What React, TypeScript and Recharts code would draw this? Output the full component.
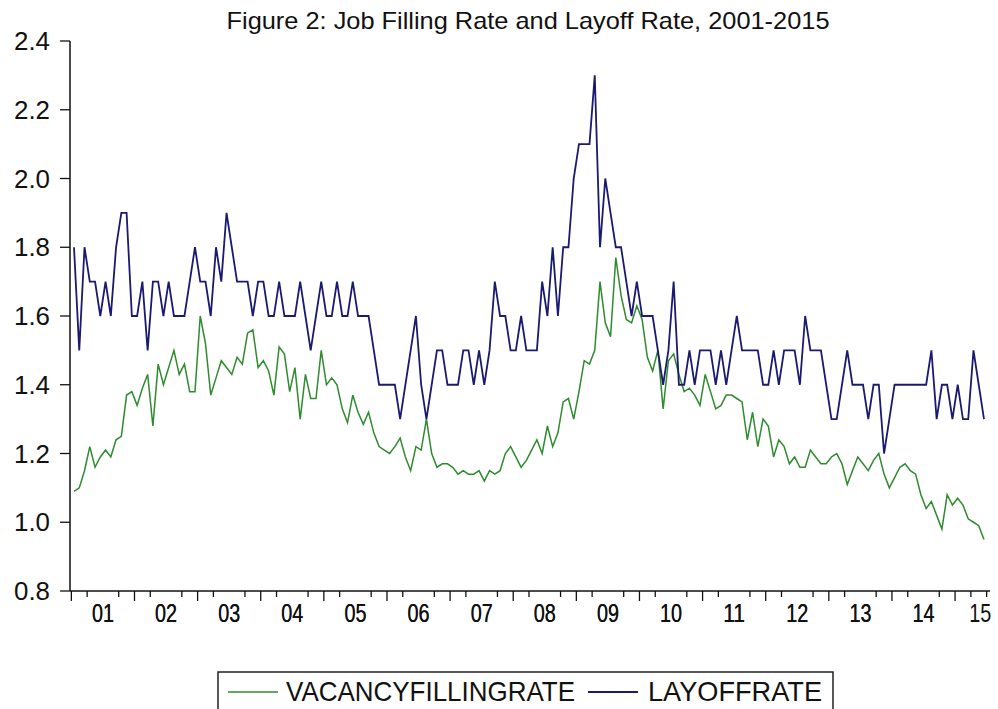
import { LineChart, Line, XAxis, YAxis } from "recharts";

const FONT = "'Liberation Sans Narrow', 'Liberation Sans', Arial, sans-serif";

const TITLE = "Figure 2: Job Filling Rate and Layoff Rate, 2001-2015";
const YEAR_LABELS = ["01", "02", "03", "04", "05", "06", "07", "08", "09", "10", "11", "12", "13", "14", "15"];
const Y_TICKS = [0.8, 1.0, 1.2, 1.4, 1.6, 1.8, 2.0, 2.2, 2.4];

// monthly, 2001M01 .. 2015M06
const VACANCY = [
  1.09, 1.10, 1.15, 1.22, 1.16, 1.19, 1.21, 1.19, 1.24, 1.25, 1.37, 1.38,
  1.34, 1.39, 1.43, 1.28, 1.46, 1.40, 1.45, 1.50, 1.43, 1.46, 1.38, 1.38,
  1.60, 1.52, 1.37, 1.42, 1.47, 1.45, 1.43, 1.48, 1.46, 1.55, 1.56, 1.45,
  1.47, 1.44, 1.37, 1.51, 1.49, 1.38, 1.45, 1.30, 1.43, 1.36, 1.36, 1.50,
  1.40, 1.42, 1.40, 1.33, 1.29, 1.37, 1.32, 1.285, 1.32, 1.26, 1.22, 1.21,
  1.20, 1.22, 1.245, 1.19, 1.15, 1.22, 1.21, 1.30, 1.20, 1.16, 1.17, 1.17,
  1.16, 1.14, 1.15, 1.14, 1.14, 1.15, 1.12, 1.15, 1.14, 1.15, 1.20, 1.22,
  1.19, 1.16, 1.18, 1.21, 1.24, 1.20, 1.28, 1.22, 1.26, 1.35, 1.36, 1.30,
  1.38, 1.47, 1.46, 1.50, 1.70, 1.58, 1.54, 1.77, 1.66, 1.59, 1.58, 1.63,
  1.59, 1.48, 1.44, 1.50, 1.33, 1.47, 1.49, 1.43, 1.38, 1.39, 1.37, 1.34,
  1.43, 1.38, 1.33, 1.34, 1.37, 1.37, 1.36, 1.35, 1.24, 1.32, 1.22, 1.30,
  1.28, 1.19, 1.24, 1.22, 1.17, 1.19, 1.16, 1.16, 1.21, 1.19, 1.17, 1.17,
  1.19, 1.20, 1.17, 1.11, 1.15, 1.19, 1.17, 1.15, 1.18, 1.20, 1.14, 1.10,
  1.13, 1.16, 1.17, 1.15, 1.14, 1.08, 1.04, 1.06, 1.02, 0.98, 1.08, 1.05,
  1.07, 1.05, 1.01, 1.00, 0.99, 0.95,
];

const LAYOFF = [
  1.8, 1.5, 1.8, 1.7, 1.7, 1.6, 1.7, 1.6, 1.8, 1.9, 1.9, 1.6,
  1.6, 1.7, 1.5, 1.7, 1.7, 1.6, 1.7, 1.6, 1.6, 1.6, 1.7, 1.8,
  1.7, 1.7, 1.6, 1.8, 1.7, 1.9, 1.8, 1.7, 1.7, 1.7, 1.6, 1.7,
  1.7, 1.6, 1.6, 1.7, 1.6, 1.6, 1.6, 1.7, 1.6, 1.5, 1.6, 1.7,
  1.6, 1.6, 1.7, 1.6, 1.6, 1.7, 1.6, 1.6, 1.6, 1.5, 1.4, 1.4,
  1.4, 1.4, 1.3, 1.4, 1.5, 1.6, 1.4, 1.3, 1.4, 1.5, 1.5, 1.4,
  1.4, 1.4, 1.5, 1.5, 1.4, 1.5, 1.4, 1.5, 1.7, 1.6, 1.6, 1.5,
  1.5, 1.6, 1.5, 1.5, 1.5, 1.7, 1.6, 1.8, 1.6, 1.8, 1.8, 2.0,
  2.1, 2.1, 2.1, 2.3, 1.8, 2.0, 1.9, 1.8, 1.8, 1.7, 1.6, 1.7,
  1.6, 1.6, 1.6, 1.5, 1.4, 1.5, 1.7, 1.4, 1.4, 1.5, 1.4, 1.5,
  1.5, 1.5, 1.4, 1.5, 1.4, 1.5, 1.6, 1.5, 1.5, 1.5, 1.5, 1.4,
  1.4, 1.5, 1.4, 1.5, 1.5, 1.5, 1.4, 1.6, 1.5, 1.5, 1.5, 1.4,
  1.3, 1.3, 1.4, 1.5, 1.4, 1.4, 1.4, 1.3, 1.4, 1.4, 1.2, 1.3,
  1.4, 1.4, 1.4, 1.4, 1.4, 1.4, 1.4, 1.5, 1.3, 1.4, 1.4, 1.3,
  1.4, 1.3, 1.3, 1.5, 1.4, 1.3,
];

const SERIES = [
  { key: "vacancy", name: "VACANCYFILLINGRATE", color: "#2e8b2e", width: 1.5 },
  { key: "layoff", name: "LAYOFFRATE", color: "#1a1a70", width: 1.8 },
];

const data = VACANCY.map((v, i) => ({ t: i, vacancy: v, layoff: LAYOFF[i] }));
const N = data.length;

// quarter boundaries + one label slot per year (last, partial year sits near the right edge)
const quarterTicks = Array.from({ length: Math.floor(N / 3) + 1 }, (_, q) => q * 3 - 0.5);
const labelTicks = YEAR_LABELS.map((_, k) => (k === YEAR_LABELS.length - 1 ? N - 1.7 : k * 12 + 5.5));
const xTicks = [...quarterTicks, ...labelTicks].sort((a, b) => a - b);
const X_DOMAIN: [number, number] = [-0.76, N - 1 + 1.14];

function XTick(props: any) {
  const { x, y, payload } = props;
  const v = payload.value;
  const li = labelTicks.indexOf(v);
  if (li >= 0) {
    return (
      <text x={x} y={y + 31} textAnchor="middle" fontSize={26} fontFamily={FONT} fill="#111"
        textLength={22} lengthAdjust="spacingAndGlyphs">
        {YEAR_LABELS[li]}
      </text>
    );
  }
  const major = (v + 0.5) % 12 === 0;
  return <line x1={x} x2={x} y1={y} y2={y + (major ? 10 : 6)} stroke="#111" strokeWidth={1.3} />;
}

function YTick(props: any) {
  const { x, y, payload } = props;
  return (
    <text x={x} y={y + 9} textAnchor="end" fontSize={26} fontFamily={FONT} fill="#111"
      textLength={36} lengthAdjust="spacingAndGlyphs">
      {payload.value.toFixed(1)}
    </text>
  );
}

export default function App() {
  return (
    <div style={{ position: "absolute", left: 0, top: 0, width: 998, height: 709, background: "#fff", overflow: "hidden" }}>
      <LineChart width={998} height={709} data={data} margin={{ top: 41, right: 8, left: 0, bottom: 78 }}>
        <XAxis
          xAxisId="main"
          dataKey="t"
          type="number"
          domain={X_DOMAIN}
          allowDataOverflow
          ticks={xTicks}
          interval={0}
          tick={<XTick />}
          tickLine={false}
          tickSize={0}
          tickMargin={0}
          height={40}
          axisLine={{ stroke: "#111", strokeWidth: 1.5 }}
        />
        <XAxis
          xAxisId="top"
          orientation="top"
          dataKey="t"
          type="number"
          domain={X_DOMAIN}
          allowDataOverflow
          tick={false}
          tickLine={false}
          height={0}
          axisLine={{ stroke: "#111", strokeWidth: 1.5 }}
        />
        <YAxis
          yAxisId="left"
          domain={[0.8, 2.4]}
          ticks={Y_TICKS}
          interval={0}
          width={70}
          tickSize={10}
          tickMargin={10}
          tick={<YTick />}
          tickLine={{ stroke: "#111", strokeWidth: 1.3 }}
          axisLine={{ stroke: "#111", strokeWidth: 1.5 }}
        />
        <YAxis
          yAxisId="right"
          orientation="right"
          domain={[0.8, 2.4]}
          width={0}
          tick={false}
          tickLine={false}
          axisLine={{ stroke: "#111", strokeWidth: 1.5 }}
        />
        {SERIES.map((s) => (
          <Line
            key={s.key}
            xAxisId="main"
            yAxisId="left"
            type="linear"
            dataKey={s.key}
            name={s.name}
            stroke={s.color}
            strokeWidth={s.width}
            dot={false}
            activeDot={false}
            isAnimationActive={false}
          />
        ))}
      </LineChart>
      <svg width={998} height={709} style={{ position: "absolute", left: 0, top: 0, pointerEvents: "none" }}>
        <text x={528} y={29} textAnchor="middle" fontSize={24} fontFamily={FONT} fill="#111" textLength={603} lengthAdjust="spacingAndGlyphs">
          {TITLE}
        </text>
        <rect x={218} y={672} width={615} height={60} fill="#fff" stroke="#222" strokeWidth={1.5} />
        <line x1={228} x2={278} y1={692} y2={692} stroke={SERIES[0].color} strokeWidth={SERIES[0].width} />
        <text x={286} y={701} fontSize={28} fontFamily={FONT} fill="#111" textLength={289} lengthAdjust="spacingAndGlyphs">
          {SERIES[0].name}
        </text>
        <line x1={588} x2={638} y1={692} y2={692} stroke={SERIES[1].color} strokeWidth={SERIES[1].width} />
        <text x={648} y={701} fontSize={28} fontFamily={FONT} fill="#111" textLength={174} lengthAdjust="spacingAndGlyphs">
          {SERIES[1].name}
        </text>
      </svg>
    </div>
  );
}
